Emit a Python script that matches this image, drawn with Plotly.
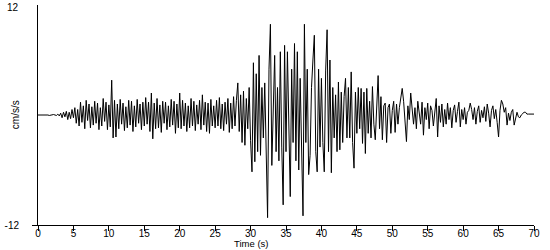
import plotly.graph_objects as go

dt = 0.2
accel = [
    0, 0, 0.05, 0, 0,
    0, 0.05, 0, -0.05, 0,
    0, 0.05, 0, -0.05, 0.1,
    -0.1, 0.2, -0.3, 0.3, -0.2,
    0.4, -0.5, 0.3, -0.4, 0.6,
    -0.3, 0.8, -0.9, 0.6, -1.2,
    1.4, -0.8, 1.0, -1.5, 1.6,
    -0.6, 1.2, -1.4, 0.9, -1.1,
    1.5, -0.9, 1.3, -1.6, 0.8,
    -1.2, 1.8, -0.7, 1.4, -1.6,
    1.1, -1.3, 3.8, -2.5, 1.6,
    -2.4, 1.2, -1.5, 1.7, -1.0,
    1.3, -1.7, 0.9, -1.4, 1.6,
    -1.1, 1.5, -1.8, 1.0, -1.3,
    1.7, -0.9, 1.2, -1.6, 1.4,
    -1.2, 1.9, -1.0, 1.4, -1.8,
    2.4, -2.6, 1.3, -1.5, 1.8,
    -1.4, 1.1, -1.9, 1.5, -0.9,
    1.4, -1.6, 1.0, -1.3, 1.7,
    -1.1, 1.5, -2.0, 1.2, -1.4,
    2.4, -1.5, 1.6, -1.2, 1.3,
    -1.8, 1.0, -1.4, 1.8, -1.2,
    1.5, -1.7, 1.1, -1.0, 1.6,
    -1.6, 2.2, -1.1, 1.4, -1.8,
    1.3, -2.0, 1.7, -1.2, 1.0,
    -1.4, 1.6, -1.2, 1.9, -1.5,
    1.2, -1.7, 1.4, -1.0, 1.8,
    -1.9, 1.3, -1.5, 2.0, -1.2,
    1.6, 3.5, -1.8, 2.2, -3.0,
    2.6, -3.3, 1.8, -1.5, 3.0,
    -2.8, -6.2, 5.7, -5.1, 4.5,
    -4.0, 6.5, -4.4, 3.0, -2.5,
    3.5, -3.0, -11.2, 5.0, 9.9,
    -5.5, 2.0, 6.5, -4.0, 3.0,
    -5.0, 6.9, -3.5, -9.8, 7.6,
    -4.0, 6.9, -3.0, -8.9, 5.0,
    -3.0, 7.8, -5.0, 6.9, -6.0,
    4.0, -5.0, -11.0, 9.9, -3.0,
    5.0, -6.5, -4.4, 3.0, 6.0,
    8.7, -4.0, -6.2, 5.0, -3.5,
    4.0, -3.0, -6.2, 4.9, 9.3,
    -4.0, 6.0, -6.3, 3.0, -2.5,
    2.2, -4.0, 3.6, -3.8, 2.5,
    -3.0, 2.0, 4.0, -2.5, 3.0,
    -2.5, 4.7, -3.0, -5.8, 2.5,
    -2.0, 3.0, -1.5, 2.9, -3.1,
    2.5, -4.2, 2.9, -2.0, 1.5,
    -2.5, 3.1, -1.0, -2.7, 2.0,
    4.3, -1.5, 2.0, -2.7, 1.0,
    1.3, -3.0, 0.8, 1.2, -2.0,
    0.5, 1.5, -1.9, 1.2, -1.0,
    0.8, 2.0, 2.9, 1.5, -0.5,
    -2.9, 1.0, -0.5, 2.4, 1.0,
    -1.0, 0.8, -1.5, 1.5, 0.5,
    -1.0, 1.4, -2.2, 0.8, -0.5,
    1.3, -1.5, 1.0, 0.5, -1.2,
    0.8, 1.8, -2.4, 1.0, -0.8,
    1.2, -1.3, 0.6, -1.0, 1.3,
    -0.5, 0.8, -1.4, 0.5, 1.1,
    -0.8, 0.4, 1.4, -1.3, 0.6,
    -0.5, 0.8, -1.0, 0.3, 0.5,
    1.3, 0.6, -0.5, 0.8, -1.0,
    0.4, 1.0, -0.8, 0.5, -0.3,
    0.9, -0.7, 1.2, 0.2, -1.3,
    0.5, 1.0, -0.4, 0.6, -0.8,
    -2.4, 0.5, 1.6, 1.2, 0.3,
    0.8, -1.1, 0.2, -0.6, 0.3,
    0.6, -1.1, -0.5, 0.3, -0.2,
    -0.3, 0.0, 0.2, 0.3, 0.3,
    0.1, 0.1, 0.1, 0.1, 0.1,
    0.1,
]
time = [round(i * dt, 2) for i in range(len(accel))]

x_ticks = list(range(0, 75, 5))
y_min, y_max = -12, 12

font = dict(family="Liberation Sans, Arial, sans-serif", size=10, color="black")
small = dict(family="Liberation Sans, Arial, sans-serif", size=9.5, color="black")

fig = go.Figure()
fig.add_trace(go.Scatter(x=time, y=accel, mode="lines",
                         line=dict(color="black", width=1), hoverinfo="skip"))

fig.update_layout(
    width=550, height=250,
    margin=dict(l=35, r=16, t=5, b=25),
    paper_bgcolor="white", plot_bgcolor="white",
    showlegend=False, font=font,
    xaxis=dict(range=[0, 70], tickvals=x_ticks, ticktext=[str(v) for v in x_ticks],
               showgrid=False, zeroline=False, showline=True, linecolor="black",
               linewidth=1, ticks="outside", ticklen=5, tickcolor="black",
               ticklabelstandoff=-6, tickfont=font),
    yaxis=dict(range=[y_min, y_max], tickvals=[y_min], ticktext=[str(y_min)],
               showgrid=False, zeroline=False, showline=True, linecolor="black",
               linewidth=1, ticks="outside", ticklen=5, tickcolor="black",
               ticklabelstandoff=11, tickfont=font),
    annotations=[
        dict(text=str(y_max), xref="paper", yref="paper", x=-17/499, y=1,
             showarrow=False, xanchor="right", yanchor="middle", yshift=-2,
             font=font),
        dict(text="cm/s/s", xref="paper", yref="paper", x=-23/499, y=0.5,
             textangle=-90, showarrow=False, xanchor="center", yanchor="middle",
             font=font),
        dict(text="Time (s)", xref="paper", yref="paper", x=214/499, y=-25/220,
             showarrow=False, xanchor="center", yanchor="bottom",
             borderpad=0, font=small),
    ],
)

fig.write_html("out.html")
